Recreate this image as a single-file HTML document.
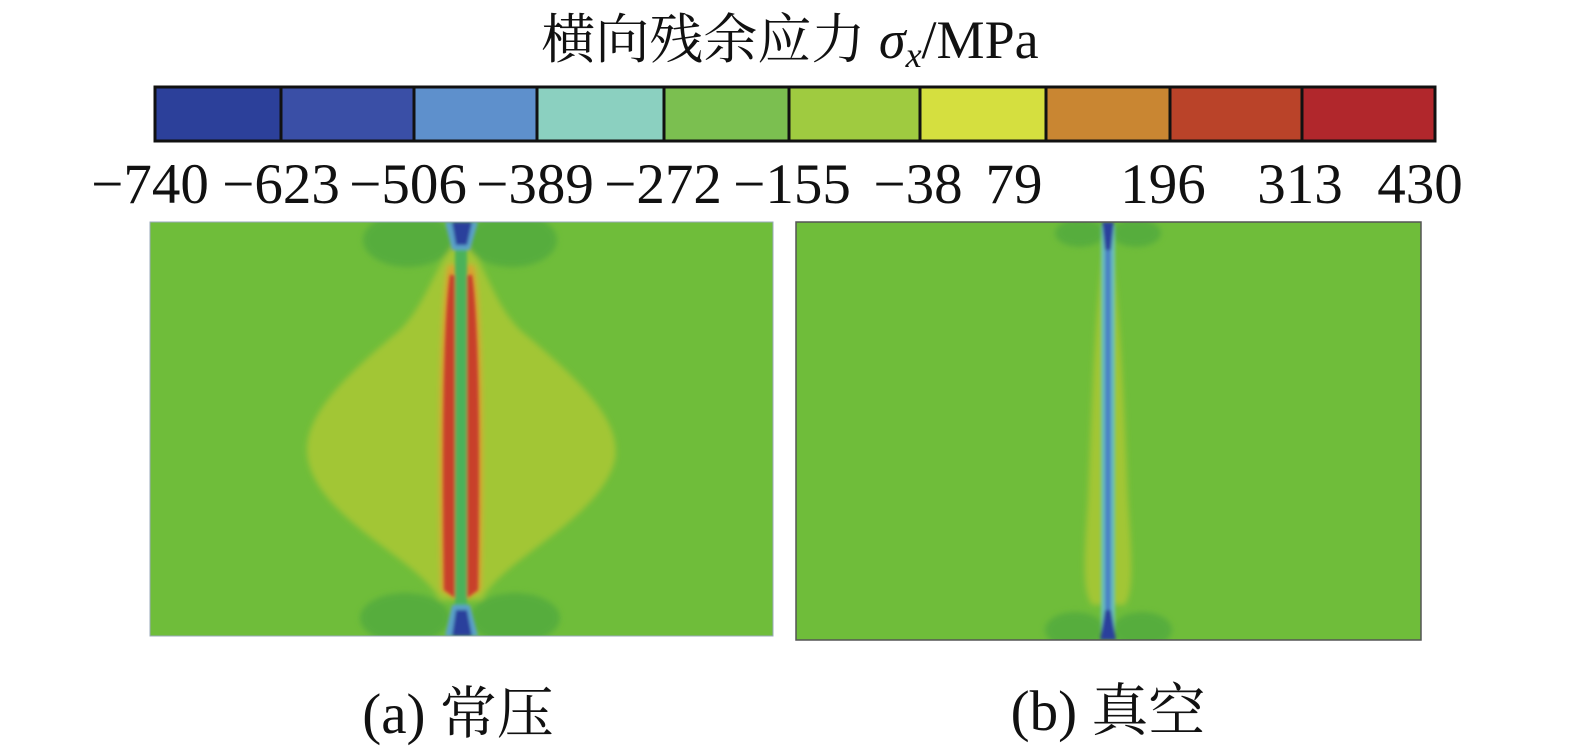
<!DOCTYPE html>
<html><head><meta charset="utf-8"><style>
html,body{margin:0;padding:0;background:#fff;width:1575px;height:748px;overflow:hidden}
svg{display:block}
text{font-family:"Liberation Serif","Noto Serif CJK SC",serif;fill:#111}
</style></head><body>
<svg width="1575" height="748" viewBox="0 0 1575 748" xmlns="http://www.w3.org/2000/svg">
<defs>
<filter id="bl" x="-20%" y="-20%" width="140%" height="140%"><feGaussianBlur stdDeviation="3"/></filter>
<filter id="bl2" x="-50%" y="-50%" width="200%" height="200%"><feGaussianBlur stdDeviation="1.5"/></filter>
<clipPath id="ca"><rect x="150" y="222" width="623" height="414"/></clipPath>
<clipPath id="cb"><rect x="796" y="222" width="625" height="418"/></clipPath>
</defs>
<text x="790" y="58" font-size="54" text-anchor="middle">横向残余应力 <tspan font-style="italic">σ</tspan><tspan font-style="italic" font-size="36" dy="9">x</tspan><tspan dy="-9">/MPa</tspan></text>
<g stroke="#111" stroke-width="3">
<rect x="155" y="87" width="126" height="54" fill="#2c409a"/>
<rect x="281" y="87" width="133" height="54" fill="#3a4fa6"/>
<rect x="414" y="87" width="123" height="54" fill="#5e90cc"/>
<rect x="537" y="87" width="127" height="54" fill="#8bd0c0"/>
<rect x="664" y="87" width="125" height="54" fill="#7bbf50"/>
<rect x="789" y="87" width="131" height="54" fill="#9fcb40"/>
<rect x="920" y="87" width="126" height="54" fill="#d5df3f"/>
<rect x="1046" y="87" width="124" height="54" fill="#c98632"/>
<rect x="1170" y="87" width="132" height="54" fill="#ba4329"/>
<rect x="1302" y="87" width="133" height="54" fill="#b1272c"/>
</g>
<g font-size="57" text-anchor="middle">
<text x="150" y="203">−740</text><text x="281" y="203">−623</text><text x="408" y="203">−506</text>
<text x="535" y="203">−389</text><text x="663" y="203">−272</text><text x="792" y="203">−155</text>
<text x="918" y="203">−38</text><text x="1014" y="203">79</text><text x="1163" y="203">196</text>
<text x="1300" y="203">313</text><text x="1420" y="203">430</text>
</g>
<g clip-path="url(#ca)">
<rect x="150" y="222" width="623" height="414" fill="#6fbd3a"/>
<g filter="url(#bl)">
<path d="M461 240 C440 250,430 300,400 330 C340 380,300 420,308 460 C320 520,420 560,440 600 L482 600 C500 560,600 520,615 460 C622 420,580 380,520 330 C490 300,482 250,461 240Z" fill="#a2c634"/>
<ellipse cx="408" cy="240" rx="45" ry="27" fill="#56ad3c"/>
<ellipse cx="512" cy="240" rx="45" ry="27" fill="#56ad3c"/>
<ellipse cx="405" cy="618" rx="45" ry="25" fill="#56ad3c"/>
<ellipse cx="515" cy="618" rx="45" ry="25" fill="#56ad3c"/>
<path d="M441 590 C438 450,440 300,448 265 L458 265 L458 600Z" fill="#d9a030"/>
<path d="M481 590 C484 450,482 300,474 265 L464 265 L464 600Z" fill="#d9a030"/>
</g>
<g filter="url(#bl2)">
<path d="M444 590 C442 450,443 320,450 275 L455 275 L455 598Z" fill="#c8402a"/>
<path d="M478 590 C480 450,479 320,472 275 L467 275 L467 598Z" fill="#c8402a"/>
<rect x="455" y="240" width="12" height="370" fill="#4bb25a"/>
<path d="M445 222 L478 222 L470 250 L452 250Z" fill="#5aa0c8"/>
<path d="M452 222 L472 222 L467 245 L456 245Z" fill="#2c3f9c"/>
<path d="M445 636 L478 636 L470 605 L452 605Z" fill="#5aa0c8"/>
<path d="M452 636 L472 636 L467 610 L456 610Z" fill="#2c3f9c"/>
</g>
</g>
<rect x="150" y="222" width="623" height="414" fill="none" stroke="#9ab" stroke-width="1"/>
<g clip-path="url(#cb)">
<rect x="796" y="222" width="625" height="418" fill="#6fbd3a"/>
<g filter="url(#bl)">
<path d="M1107 232 C1095 300,1092 400,1088 500 C1084 560,1082 590,1092 605 L1125 605 C1134 590,1132 560,1128 500 C1124 400,1120 300,1108 232Z" fill="#a2c634"/>
<ellipse cx="1080" cy="233" rx="25" ry="14" fill="#56ad3c"/>
<ellipse cx="1136" cy="233" rx="25" ry="14" fill="#56ad3c"/>
<ellipse cx="1075" cy="630" rx="30" ry="18" fill="#56ad3c"/>
<ellipse cx="1142" cy="630" rx="30" ry="18" fill="#56ad3c"/>
</g>
<g filter="url(#bl2)">
<rect x="1101" y="225" width="14" height="410" fill="#6ac0b8"/>
<rect x="1105" y="225" width="6" height="410" fill="#4a80c4"/>
<path d="M1102 222 L1114 222 L1111 250 L1105 250Z" fill="#2c3f9c"/>
<path d="M1100 640 L1116 640 L1111 610 L1105 610Z" fill="#2c3f9c"/>
</g>
</g>
<rect x="796" y="222" width="625" height="418" fill="none" stroke="#555" stroke-width="1.5"/>
<text x="458" y="733" font-size="57" text-anchor="middle">(a) 常压</text>
<text x="1108" y="730" font-size="57" text-anchor="middle">(b) 真空</text>
</svg>
</body></html>
